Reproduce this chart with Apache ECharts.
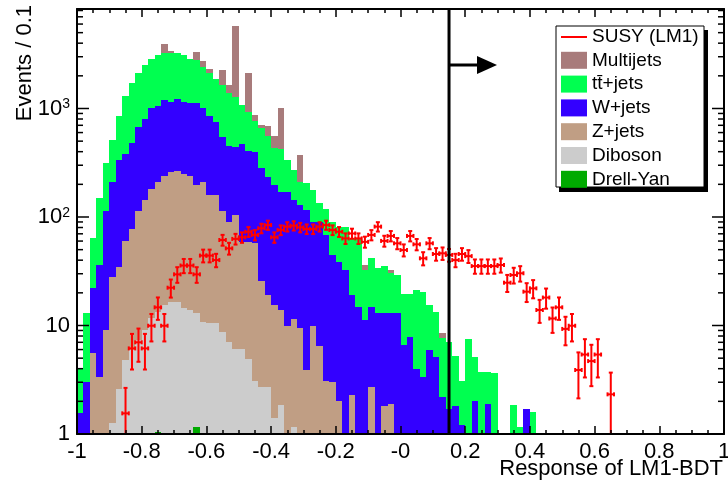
<!DOCTYPE html>
<html><head><meta charset="utf-8">
<script src="https://cdn.jsdelivr.net/npm/echarts@6/dist/echarts.min.js"></script>
<style>html,body{margin:0;padding:0;background:#fff}#c{width:728px;height:483px}</style>
</head><body><div id="c"></div>
<script>
// ---------------- data (100 bins from -1 to 1) ----------------
const xTickLabels = ['-1','-0.8','-0.6','-0.4','-0.2','-0','0.2','0.4','0.6','0.8','1'];
const yTickLabels = ['1','10','10^2','10^3'];

const multijets = [
 0,0,0,0,0,0,0,0,0,0,
 0,0,0,681,139,0,0,0,516,329,
 188,0,617,258,4478,0,1195,104,44,132,
 125,587,0,0,162,0,0,0,0,0,
 0,0,0,0,3.6,0,0,0,2.0,0,
 0,0,0,0,0,0,0.9,0,0,0,
 0,0,0,0,0,0,0,0,0,0,
 0,0,0,0,0,0,0,0,0,0,
 0,0,0,0,0,0,0,0,0,0,
 0,0,0,0,0,0,0,0,0,0];
const ttbar = [
 2.5,10,41.8,113.5,201,302,518,922,1237,1449,
 1718,1847,2058,2052,2101,2025,1964,1734,1676,1401,
 1271,1120,1107,943,838,606,524,370,378,324,
 235,254,165,127.5,81,90,87.5,44.7,50.3,45.2,
 42.4,48.4,44.9,49.2,21.3,27.1,20.9,22.3,17.5,16.2,
 12.9,11.7,17.2,17.0,9.5,8.2,5.5,5.4,3.4,1.9,
 7.5,3.1,3.7,1.8,3.65,0,0,1.85,1.16,0,
 1.6,0,0,0,0,0,0,0,0,0,
 0,0,0,0,0,0,0,0,0,0,
 0,0,0,0,0,0,0,0,0,0];
const wjets = [
 1.56,3.0,16.6,32.8,104.5,182,300,321,403,561,
 656,830,844,958,888,958,899,885,927,801,
 694,592,427,357,333,412,347,339,257,215,
 182,156,160,132,119.5,112,80,83.4,65.1,41.7,
 36.5,32.5,16.8,14.8,11.2,12.1,13,11.2,11.1,13,
 6.6,7.8,4.0,3.35,5.9,5.1,2.2,1.7,1.8,1.2,
 0,2.0,0,1.9,0,0,0,0,0,1.7,
 0,0,0,0,0,0,0,0,0,0,
 0,0,0,0,0,0,0,0,0,0,
 0,0,0,0,0,0,0,0,0,0];
const zjets = [
 0,0,5.6,3.35,9.1,26.7,32,55.3,71.6,106.2,
 134.4,169,196.7,223,243.5,249,234.5,225,184,199.4,
 149,149,105,83,98,52.8,54,54.5,23,16.4,
 14,12,9.9,10.3,9.5,3.9,9.9,6.5,3.1,3.0,
 2.0,0,2.3,0,0,2.7,0,1.8,1.9,0,
 0,0,0,0,0,0,0,0,0,0,
 0,0,0,0,0,0,0,0,0,0,
 0,0,0,0,0,0,0,0,0,0,
 0,0,0,0,0,0,0,0,0,0,
 0,0,0,0,0,0,0,0,0,0];
const diboson = [
 0,0,0,0,0,1.26,2.6,4.8,5.9,7.35,
 9.1,11.7,12.3,15.5,16.5,16.5,14.5,13.9,11.8,10.8,
 10.5,10.5,8.7,7.05,6.07,6.07,4.9,3.1,2.7,2.7,
 1.4,1.85,0,1.16,0,0,0,0,0,0,
 0,0,0,0,0,0,0,0,0,0,
 0,0,0,0,0,0,0,0,0,0,
 0,0,0,0,0,0,0,0,0,0,
 0,0,0,0,0,0,0,0,0,0,
 0,0,0,0,0,0,0,0,0,0,
 0,0,0,0,0,0,0,0,0,0];
const drellYan = [
 0,0,0,0,0,0,0,0,0,0,
 0,0,1.05,0,0,0,0,0,1.17,0,
 0,0,0,0,0,0,0,0,0,0,
 0,0,0,0,0,0,0,0,0,0,
 0,0,0,0,0,0,0,0,0,0,
 0,0,0,0,0,0,0,0,0,0,
 0,0,0,0,0,0,0,0,0,0,
 0,0,0,0,0,0,0,0,0,0,
 0,0,0,0,0,0,0,0,0,0,
 0,0,0,0,0,0,0,0,0,0];
const susy = [
 null,null,null,null,null,null,null,1.55,6.15,7.0,
 6.15,9.95,14.7,9.95,22.3,29.6,35.7,35.7,29.6,44.1,
 44.1,40.1,61.4,51.4,62.8,65,73.1,68.3,78.7,84.3,
 65,75.9,81.5,83.2,80.2,77.5,77.5,81.5,84.3,75.9,
 73.1,63.5,70.5,63.5,59,68.3,81.5,60.2,66.9,57.2,
 49.6,66.9,56,41.6,57.2,45.6,46.3,44.7,40.1,45.6,
 43.6,35.3,35.3,35.3,35.3,36.1,24.8,29.2,30.3,20.5,
 22,13.9,18.1,11.6,14.7,9.3,9.95,3.89,5.4,4.7,
 5.4,null,2.32,null,null,null,null,null,null,null,
 null,null,null,null,null,null,null,null,null,null];
const susyErr = [
 null,null,null,null,null,null,null,1.11,2.22,2.37,
 2.22,2.82,3.43,2.82,4.22,4.87,5.34,5.34,4.87,5.94,
 5.94,5.66,7.01,6.41,7.09,7.21,7.65,7.39,7.93,8.21,
 7.21,7.79,8.07,8.16,8.01,7.87,7.87,8.07,8.21,7.79,
 7.65,7.13,7.51,7.13,6.87,7.39,8.07,6.94,7.32,6.76,
 6.30,7.32,6.69,5.77,6.76,6.04,6.09,5.98,5.66,6.04,
 5.91,5.31,5.31,5.31,5.31,5.37,4.45,4.83,4.92,4.05,
 4.20,3.33,3.81,3.05,3.43,2.73,2.82,1.76,2.08,1.94,
 2.08,null,1.36,null,null,null,null,null,null,null,
 null,null,null,null,null,null,null,null,null,null];
const cutValue = 0.15;

// ---------------- setup ----------------
const FONT = '"Liberation Sans", Arial, Helvetica, sans-serif';
const xMin = -1, xMax = 1, yMin = 1, yMax = 8260;
const nBins = susy.length;
const binW = (xMax - xMin) / nBins;

const stack = [
  {name: 'Drell-Yan', data: drellYan, color: '#00aa00'},
  {name: 'Diboson',   data: diboson,  color: '#cccccc'},
  {name: 'Z+jets',    data: zjets,    color: '#c09e84'},
  {name: 'W+jets',    data: wjets,    color: '#3300ff'},
  {name: 'tt\u0304+jets', data: ttbar, color: '#00ff50'},
  {name: 'Multijets', data: multijets, color: '#a87b7b'}
];
const lower = stack.map(() => new Array(nBins).fill(0));
for (let j = 1; j < stack.length; j++)
  for (let i = 0; i < nBins; i++) lower[j][i] = lower[j-1][i] + stack[j-1].data[i];

function stackSeries(p, j) {
  const idx = [];
  p.data.forEach((v, i) => { if (v > 0) idx.push([i]); });
  return {
    type: 'custom', name: p.name, coordinateSystem: 'cartesian2d',
    itemStyle: {color: p.color}, z: 2, silent: true,
    data: idx,
    renderItem(params, api) {
      const i = api.value(0);
      const lo = Math.max(lower[j][i], yMin);
      const hi = Math.min(lower[j][i] + p.data[i], yMax);
      if (hi <= lo) return null;
      const xl = xMin + i * binW, xr = xl + binW;
      const a = api.coord([xl, hi]), b = api.coord([xr, lo]);
      const x0 = Math.round(a[0]), x1 = Math.round(b[0]);
      const y0 = Math.round(a[1]), y1 = Math.round(b[1]);
      if (y1 <= y0) return null;
      return {type: 'rect', shape: {x: x0, y: y0, width: x1 - x0, height: y1 - y0},
              style: {fill: p.color}};
    }
  };
}

function ln(x1, y1, x2, y2, w, c) {
  return {type: 'line', shape: {x1, y1, x2, y2}, style: {stroke: c || '#000', lineWidth: w}};
}

const susyIdx = [];
susy.forEach((v, i) => { if (v != null) susyIdx.push([i]); });
const susySeries = {
  type: 'custom', name: 'SUSY (LM1)', coordinateSystem: 'cartesian2d',
  itemStyle: {color: '#ff0000'}, z: 4, silent: true, data: susyIdx,
  renderItem(params, api) {
    const i = api.value(0);
    const v = susy[i], e = susyErr[i];
    const xl = xMin + i * binW, xr = xl + binW, xc = xl + binW / 2;
    const pc = api.coord([xc, v]), pl = api.coord([xl, v]), pr = api.coord([xr, v]);
    const pt = api.coord([xc, Math.min(v + e, yMax)]);
    const lowOk = (v - e) > yMin;
    const pb = api.coord([xc, lowOk ? v - e : yMin]);
    const cap = 2, red = '#ff0000', w = 2;
    const ch = [
      ln(pl[0], pc[1], pr[0], pc[1], w, red),
      ln(pc[0], pt[1], pc[0], pb[1], w, red),
      ln(pl[0], pc[1] - cap, pl[0], pc[1] + cap, w, red),
      ln(pr[0], pc[1] - cap, pr[0], pc[1] + cap, w, red),
      ln(pc[0] - cap, pt[1], pc[0] + cap, pt[1], w, red)
    ];
    if (lowOk) ch.push(ln(pc[0] - cap, pb[1], pc[0] + cap, pb[1], w, red));
    return {type: 'group', children: ch};
  }
};

// y ticks (log: major at decades, minor at 2..9)
const yTicks = [];
for (let k = 0; k < 4; k++) for (let m = 1; m <= 9; m++) {
  const v = m * Math.pow(10, k);
  if (v < yMax) yTicks.push([v, m === 1 ? 1 : 0]);
}
const yTickSeries = {
  type: 'custom', coordinateSystem: 'cartesian2d', z: 6, silent: true, data: yTicks,
  renderItem(params, api) {
    const v = api.value(0), major = api.value(1);
    const L = major ? 12 : 6;
    const a = api.coord([xMin, v]), b = api.coord([xMax, v]);
    return {type: 'group', children: [ln(a[0], a[1], a[0] + L, a[1], 1.5), ln(b[0], b[1], b[0] - L, b[1], 1.5)]};
  }
};

const cutSeries = {
  type: 'custom', coordinateSystem: 'cartesian2d', z: 5, silent: true, data: [[cutValue]],
  renderItem(params, api) {
    const x = api.value(0);
    const b = api.coord([x, yMin]), t = api.coord([x, yMax]);
    const ay = t[1] + 56;
    return {type: 'group', children: [
      ln(b[0], b[1], t[0], t[1], 3),
      ln(b[0], ay, b[0] + 30, ay, 3),
      {type: 'polygon', shape: {points: [[b[0] + 28, ay - 9], [b[0] + 48, ay], [b[0] + 28, ay + 9]]}, style: {fill: '#000'}}
    ]};
  }
};

function yLabel(v) {
  const k = Math.round(Math.log10(v));
  if (Math.abs(Math.log10(v) - k) > 1e-6 || k < 0 || k >= yTickLabels.length) return '';
  const s = yTickLabels[k];
  const m = s.match(/^(\d+)\^(\d+)$/);
  return m ? '{b|' + m[1] + '}{s|' + m[2] + '}' : '{b|' + s + '}';
}
function xLabel(v) {
  const k = Math.round((v - xMin) / 0.2);
  return Math.abs(xMin + k * 0.2 - v) < 1e-6 ? (xTickLabels[k] || '') : '';
}

const axisLineStyle = {show: true, onZero: false, lineStyle: {color: '#000', width: 2}};
const xTick = {show: true, inside: true, length: 8, lineStyle: {color: '#000', width: 1.5}};
const xMinor = {show: true, splitNumber: 4, length: 4, lineStyle: {color: '#000', width: 1.5}};

const SUSY_ICON = 'path://M0,8h26v2h-26z M0,0h0.01v0.01h-0.01z M0,17h0.01v0.01h-0.01z';

const option = {
  animation: false,
  backgroundColor: '#ffffff',
  grid: {left: 77, top: 9, right: 4, bottom: 49, show: false, containLabel: false, outerBoundsMode: 'none'},
  xAxis: [
    {type: 'value', min: xMin, max: xMax, interval: 0.2, position: 'bottom', z: 10,
     axisLine: axisLineStyle, axisTick: xTick, minorTick: xMinor, splitLine: {show: false},
     axisLabel: {show: true, margin: 7, color: '#000', fontSize: 22, fontFamily: FONT, formatter: xLabel}},
    {type: 'value', min: xMin, max: xMax, interval: 0.2, position: 'top', z: 10,
     axisLine: axisLineStyle, axisTick: xTick, minorTick: xMinor, splitLine: {show: false},
     axisLabel: {show: false}}
  ],
  yAxis: [
    {type: 'log', logBase: 10, min: yMin, max: yMax, position: 'left', z: 10,
     axisLine: axisLineStyle, axisTick: {show: false}, splitLine: {show: false},
     axisLabel: {show: true, margin: 7, color: '#000', formatter: yLabel,
       rich: {b: {fontSize: 22, fontFamily: FONT, color: '#000', lineHeight: 22},
              s: {fontSize: 14, fontFamily: FONT, color: '#000', lineHeight: 14, verticalAlign: 'top'}}}},
    {type: 'log', logBase: 10, min: yMin, max: yMax, position: 'right', z: 10,
     axisLine: axisLineStyle, axisTick: {show: false}, splitLine: {show: false}, axisLabel: {show: false}}
  ],
  legend: {
    orient: 'vertical', left: 556, top: 26, z: 20,
    padding: [1, 4, 1, 5], itemGap: 4.8, itemWidth: 26, itemHeight: 17,
    textStyle: {fontSize: 19, fontFamily: FONT, color: '#000', lineHeight: 19},
    selectedMode: false,
    data: [
      {name: 'SUSY (LM1)', icon: SUSY_ICON},
      {name: 'Multijets', icon: 'rect'},
      {name: 'tt\u0304+jets', icon: 'rect'},
      {name: 'W+jets', icon: 'rect'},
      {name: 'Z+jets', icon: 'rect'},
      {name: 'Diboson', icon: 'rect'},
      {name: 'Drell-Yan', icon: 'rect'}
    ]
  },
  graphic: [
    {type: 'rect', z: 15, shape: {x: 559, y: 30, width: 149, height: 162}, style: {fill: '#000'}},
    {type: 'rect', z: 16, shape: {x: 556, y: 26, width: 148, height: 161}, style: {fill: '#fff', stroke: '#000', lineWidth: 1}},
    {type: 'text', z: 20, x: 25, y: 5, rotation: Math.PI / 2,
     style: {text: 'Events / 0.1', fill: '#000', font: '22px ' + FONT, align: 'right', verticalAlign: 'middle', textAlign: 'right', textVerticalAlign: 'middle'}},
    {type: 'text', z: 20, x: 723, y: 469,
     style: {text: 'Response of LM1-BDT', fill: '#000', font: '22px ' + FONT, align: 'right', verticalAlign: 'middle', textAlign: 'right', textVerticalAlign: 'middle'}}
  ],
  series: [
    ...stack.map(stackSeries),
    susySeries,
    cutSeries,
    yTickSeries
  ]
};

const chart = echarts.init(document.getElementById('c'), null, {renderer: 'canvas'});
chart.setOption(option);
</script>
</body></html>
